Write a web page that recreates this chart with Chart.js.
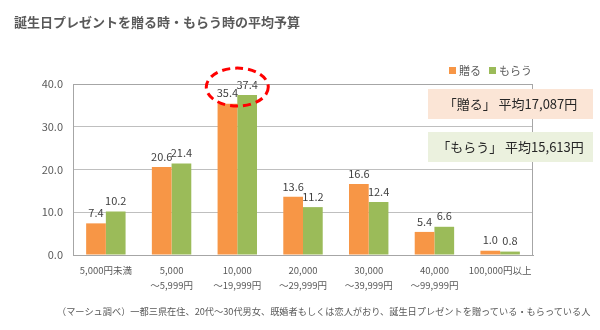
<!DOCTYPE html>
<html lang="ja">
<head>
<meta charset="utf-8">
<script src="https://cdn.jsdelivr.net/npm/chart.js@4/dist/chart.umd.min.js"></script>
<style>
  html, body { margin: 0; padding: 0; background: #fff; }
  body { width: 600px; height: 330px; position: relative; overflow: hidden;
         font-family: "Noto Sans CJK JP", "Noto Sans", sans-serif; color: #595959; }
  #wrap { position: absolute; left: 0; top: 0; width: 600px; height: 330px; }
  .title { position: absolute; left: 14px; top: 12px; font-size: 13px; font-weight: bold; color: #595959; white-space: nowrap; }
  .legend { position: absolute; right: 68px; top: 62px; font-size: 11px; color: #595959; display: flex; gap: 8px; white-space: nowrap; }
  .legend span.sw { display: inline-block; width: 7px; height: 7px; margin-right: 3px; vertical-align: 1px; }
  .note { position: absolute; left: 428px; width: 165px; height: 30px; line-height: 30px; font-size: 13px; color: #262626; text-align: center; white-space: nowrap; }
  .foot { position: absolute; left: 57px; top: 304px; font-size: 9.2px; color: #595959; white-space: nowrap; }
</style>
</head>
<body>
<div id="wrap"><canvas id="c" width="600" height="330"></canvas></div>
<div class="title">誕生日プレゼントを贈る時・もらう時の平均予算</div>
<div class="legend" id="legend"></div>
<div class="note" style="top:89px;background:#fbe5d6;">「贈る」 平均17,087円</div>
<div class="note" style="top:132px;background:#ebf1de;">「もらう」 平均15,613円</div>
<div class="foot">（マーシュ調べ）一都三県在住、20代～30代男女、既婚者もしくは恋人がおり、誕生日プレゼントを贈っている・もらっている人</div>
<script>
// Budget brackets (two-line tick labels)
const categories = [
  ["5,000円未満"],
  ["5,000", "～5,999円"],
  ["10,000", "～19,999円"],
  ["20,000", "～29,999円"],
  ["30,000", "～39,999円"],
  ["40,000", "～99,999円"],
  ["100,000円以上"]
];
const seriesNames = ["贈る", "もらう"];
const giveValues = [7.4, 20.6, 35.4, 13.6, 16.6, 5.4, 1.0];
const receiveValues = [10.2, 21.4, 37.4, 11.2, 12.4, 6.6, 0.8];
const yTicks = [0, 10, 20, 30, 40];
const highlightIndex = 2;

const colors = ["#f79646", "#9bbb59"];

// HTML legend
const legendEl = document.getElementById("legend");
seriesNames.forEach((n, i) => {
  const item = document.createElement("span");
  item.innerHTML = '<span class="sw" style="background:' + colors[i] + '"></span>' + n;
  legendEl.appendChild(item);
});

const FONT = '"Noto Sans CJK JP", "Noto Sans", sans-serif';

// Value labels above each bar
const valueLabels = {
  id: "valueLabels",
  afterDatasetsDraw(chart) {
    const ctx = chart.ctx;
    ctx.save();
    ctx.font = "11px " + FONT;
    ctx.fillStyle = "#404040";
    ctx.textAlign = "center";
    ctx.textBaseline = "bottom";
    chart.data.datasets.forEach((ds, di) => {
      chart.getDatasetMeta(di).data.forEach((bar, i) => {
        ctx.fillText(ds.data[i].toFixed(1), bar.x, bar.y - 5);
      });
    });
    ctx.restore();
  }
};

// Plot frame plus the dashed ellipse marking the top bracket
const frameAndMark = {
  id: "frameAndMark",
  afterDraw(chart) {
    const ctx = chart.ctx;
    const a = chart.chartArea;
    ctx.save();
    ctx.strokeStyle = "#a6a6a6";
    ctx.lineWidth = 1;
    ctx.strokeRect(Math.round(a.left) + 0.5, Math.round(a.top) + 0.5,
                   Math.round(a.right - a.left) - 1, Math.round(a.bottom - a.top));
    ctx.restore();

    const m0 = chart.getDatasetMeta(0).data[highlightIndex];
    const m1 = chart.getDatasetMeta(1).data[highlightIndex];
    const cx = (m0.x + m1.x) / 2;
    const cy = chart.scales.y.getPixelForValue(Math.max(giveValues[highlightIndex], receiveValues[highlightIndex])) - 8;
    ctx.save();
    ctx.strokeStyle = "#ff0000";
    ctx.lineWidth = 3;
    ctx.setLineDash([8, 5]);
    ctx.beginPath();
    ctx.ellipse(cx, cy, 31, 19, 0, 0, Math.PI * 2);
    ctx.stroke();
    ctx.restore();
  }
};

new Chart(document.getElementById("c"), {
  type: "bar",
  data: {
    labels: categories,
    datasets: [
      { label: seriesNames[0], data: giveValues, backgroundColor: colors[0] },
      { label: seriesNames[1], data: receiveValues, backgroundColor: colors[1] }
    ]
  },
  options: {
    responsive: false,
    animation: false,
    layout: { padding: { left: 0, right: 67, top: 84, bottom: 0 } },
    datasets: { bar: { categoryPercentage: 0.6, barPercentage: 1.0 } },
    plugins: { legend: { display: false }, title: { display: false }, tooltip: { enabled: false } },
    scales: {
      x: {
        grid: { display: false, drawTicks: false },
        border: { color: "#a6a6a6" },
        ticks: { color: "#595959", font: { family: FONT, size: 9.5, lineHeight: 1.6 }, padding: 8, maxRotation: 0, autoSkip: false },
        afterFit(s) { s.height = 75; }
      },
      y: {
        min: 0, max: 40,
        afterBuildTicks(s) { s.ticks = yTicks.map(v => ({ value: v })); },
        grid: { color: "#bfbfbf", drawTicks: false },
        border: { color: "#a6a6a6" },
        ticks: { color: "#595959", font: { family: FONT, size: 11 }, padding: 10,
                 callback: v => Number(v).toFixed(1) },
        afterFit(s) { s.width = 73; }
      }
    }
  },
  plugins: [valueLabels, frameAndMark]
});
</script>
</body>
</html>
